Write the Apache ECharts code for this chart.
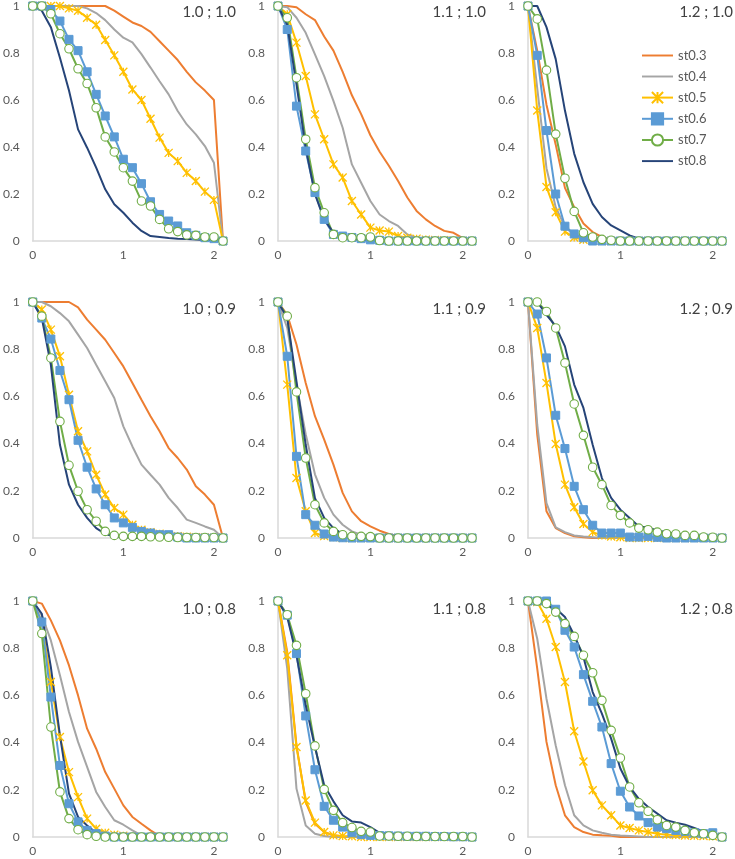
<!DOCTYPE html>
<html><head><meta charset="utf-8">
<script src="https://cdn.jsdelivr.net/npm/echarts@6/dist/echarts.min.js"></script>
<style>html,body{margin:0;padding:0;background:#fff}#c{width:735px;height:859px}</style>
</head><body><div id="c"></div>
<script>
const xs = ['0','0.1','0.2','0.3','0.4','0.5','0.6','0.7','0.8','0.9','1','1.1','1.2','1.3','1.4','1.5','1.6','1.7','1.8','1.9','2','2.1'];
const seriesNames = ['st0.3','st0.4','st0.5','st0.6','st0.7','st0.8'];
const panelTitles = ['1.0 ; 1.0','1.1 ; 1.0','1.2 ; 1.0','1.0 ; 0.9','1.1 ; 0.9','1.2 ; 0.9','1.0 ; 0.8','1.1 ; 0.8','1.2 ; 0.8'];
const yTicks = [0,0.2,0.4,0.6,0.8,1];

// Panel 1.0 ; 1.0
const p1_st03 = [1,1,1,1,1,1,1,1,1,0.98,0.955,0.93,0.915,0.89,0.85,0.81,0.77,0.72,0.675,0.64,0.6,0];
const p1_st04 = [1,1,1,1,1,1,0.99,0.97,0.94,0.9,0.865,0.845,0.795,0.738,0.68,0.624,0.553,0.496,0.454,0.404,0.333,0];
const p1_st05 = [1,1,1,1,0.99,0.98,0.95,0.92,0.855,0.79,0.72,0.645,0.6,0.52,0.44,0.375,0.34,0.29,0.255,0.21,0.175,0];
const p1_st06 = [1,1,0.985,0.936,0.858,0.81,0.72,0.624,0.532,0.443,0.348,0.312,0.244,0.167,0.113,0.085,0.064,0.035,0.024,0.014,0.01,0];
const p1_st07 = [1,1,0.967,0.882,0.818,0.733,0.67,0.567,0.443,0.379,0.312,0.255,0.17,0.149,0.092,0.052,0.04,0.026,0.024,0.017,0.017,0];
const p1_st08 = [1,0.98,0.91,0.78,0.64,0.475,0.397,0.312,0.22,0.156,0.12,0.078,0.043,0.021,0.017,0.013,0.01,0.008,0.006,0.004,0.002,0];
// Panel 1.1 ; 1.0
const p2_st03 = [1,1,0.995,0.965,0.94,0.87,0.81,0.72,0.62,0.54,0.45,0.38,0.32,0.255,0.185,0.128,0.092,0.064,0.043,0.035,0.012,0];
const p2_st04 = [1,0.995,0.95,0.886,0.794,0.702,0.596,0.482,0.326,0.248,0.17,0.113,0.085,0.064,0.028,0.014,0.01,0.007,0.005,0.003,0.002,0];
const p2_st05 = [1,0.965,0.844,0.702,0.539,0.433,0.326,0.27,0.17,0.113,0.057,0.045,0.04,0.021,0.014,0.01,0.006,0.004,0.003,0.002,0.001,0];
const p2_st06 = [1,0.9,0.574,0.383,0.206,0.092,0.028,0.021,0.015,0.01,0.005,0.003,0,0,0,0,0,0,0,0,0,0];
const p2_st07 = [1,0.95,0.695,0.433,0.227,0.12,0.028,0.014,0.014,0.014,0.017,0.002,0,0,0,0,0,0,0,0,0,0];
const p2_st08 = [1,0.92,0.667,0.397,0.199,0.092,0.035,0.014,0.007,0.004,0.002,0,0,0,0,0,0,0,0,0,0,0];
// Panel 1.2 ; 1.0
const p3_st03 = [1,0.81,0.58,0.41,0.226,0.144,0.074,0.038,0.017,0.008,0.004,0.002,0,0,0,0,0,0,0,0,0,0];
const p3_st04 = [1,0.65,0.31,0.144,0.06,0.025,0.01,0.005,0,0,0,0,0,0,0,0,0,0,0,0,0,0];
const p3_st05 = [1,0.555,0.23,0.122,0.04,0.015,0.005,0.002,0,0,0,0,0,0,0,0,0,0,0,0,0,0];
const p3_st06 = [1,0.79,0.47,0.2,0.063,0.03,0.014,0,0,0,0,0,0,0,0,0,0,0,0,0,0,0];
const p3_st07 = [1,0.945,0.727,0.455,0.267,0.126,0.035,0.017,0.007,0.003,0,0,0,0,0,0,0,0,0,0,0,0];
const p3_st08 = [1,1,0.91,0.774,0.555,0.372,0.25,0.158,0.102,0.066,0.045,0.024,0.01,0.01,0.01,0.005,0.003,0,0,0,0,0];
// Panel 1.0 ; 0.9
const p4_st03 = [1,1,1,1,1,0.977,0.925,0.883,0.84,0.784,0.727,0.657,0.586,0.516,0.452,0.381,0.339,0.29,0.219,0.184,0.141,0];
const p4_st04 = [1,1,0.982,0.953,0.918,0.862,0.805,0.734,0.664,0.593,0.473,0.388,0.311,0.268,0.226,0.17,0.127,0.078,0.064,0.049,0.035,0];
const p4_st05 = [1,0.968,0.883,0.77,0.607,0.452,0.367,0.268,0.184,0.127,0.099,0.056,0.035,0.025,0.018,0.012,0.008,0.005,0.003,0.002,0.001,0];
const p4_st06 = [1,0.932,0.843,0.71,0.586,0.414,0.3,0.208,0.141,0.085,0.064,0.045,0.028,0.021,0.014,0.014,0.004,0,0,0,0,0];
const p4_st07 = [1,0.94,0.763,0.494,0.308,0.198,0.12,0.071,0.028,0.011,0.007,0.007,0.007,0.005,0.004,0.003,0.002,0.002,0.002,0.002,0.002,0];
const p4_st08 = [1,0.932,0.734,0.395,0.226,0.141,0.085,0.042,0.017,0.007,0.003,0,0,0,0,0,0,0,0,0,0,0];
// Panel 1.1 ; 0.9
const p5_st03 = [1,0.946,0.82,0.657,0.516,0.417,0.311,0.191,0.113,0.071,0.049,0.031,0.017,0.008,0.004,0,0,0,0,0,0,0];
const p5_st04 = [1,0.89,0.65,0.44,0.27,0.17,0.099,0.056,0.028,0.014,0.007,0,0,0,0,0,0,0,0,0,0,0];
const p5_st05 = [1,0.65,0.254,0.113,0.021,0.008,0.003,0,0,0,0,0,0,0,0,0,0,0,0,0,0,0];
const p5_st06 = [1,0.77,0.346,0.099,0.054,0.017,0.004,0.001,0,0,0,0,0,0,0,0,0,0,0,0,0,0];
const p5_st07 = [1,0.94,0.619,0.339,0.141,0.064,0.028,0.014,0.007,0.007,0.006,0,0,0,0,0,0,0,0,0,0,0];
const p5_st08 = [1,0.932,0.664,0.395,0.169,0.085,0.042,0.017,0.007,0.003,0,0,0,0,0,0,0,0,0,0,0,0];
// Panel 1.2 ; 0.9
const p6_st03 = [1,0.438,0.113,0.042,0.021,0.007,0.003,0,0,0,0,0,0,0,0,0,0,0,0,0,0,0];
const p6_st04 = [1,0.48,0.148,0.045,0.025,0.011,0.006,0.003,0,0,0,0,0,0,0,0,0,0,0,0,0,0];
const p6_st05 = [1,0.89,0.657,0.398,0.226,0.13,0.059,0.025,0.011,0.006,0.003,0,0,0,0,0,0,0,0,0,0,0];
const p6_st06 = [1,0.949,0.763,0.52,0.379,0.219,0.12,0.054,0.021,0.021,0.021,0.004,0.004,0.007,0.003,0,0,0,0,0,0,0];
const p6_st07 = [1,1,0.96,0.89,0.742,0.568,0.435,0.3,0.226,0.138,0.096,0.064,0.042,0.035,0.025,0.018,0.017,0.011,0.011,0.004,0.003,0];
const p6_st08 = [1,1,0.946,0.898,0.812,0.65,0.551,0.395,0.254,0.17,0.12,0.085,0.049,0.045,0.031,0.025,0.017,0.014,0.011,0.007,0.003,0];
// Panel 1.0 ; 0.8
const p7_st03 = [1,0.989,0.918,0.833,0.727,0.6,0.459,0.374,0.275,0.205,0.134,0.085,0.056,0.028,0.004,0,0,0,0,0,0,0];
const p7_st04 = [1,0.939,0.833,0.685,0.53,0.403,0.297,0.191,0.127,0.071,0.052,0.028,0.007,0.003,0,0,0,0,0,0,0,0];
const p7_st05 = [1,0.911,0.657,0.424,0.275,0.169,0.078,0.035,0.018,0.01,0.005,0,0,0,0,0,0,0,0,0,0,0];
const p7_st06 = [1,0.911,0.593,0.303,0.141,0.064,0.028,0.014,0.004,0,0,0,0,0,0,0,0,0,0,0,0,0];
const p7_st07 = [1,0.862,0.466,0.191,0.078,0.031,0.01,0.003,0,0,0,0,0,0,0,0,0,0,0,0,0,0];
const p7_st08 = [1,0.946,0.72,0.431,0.184,0.085,0.049,0.018,0.01,0.006,0.004,0,0,0,0,0,0,0,0,0,0,0];
// Panel 1.1 ; 0.8
const p8_st03 = [1,0.784,0.388,0.148,0.056,0.021,0.007,0.002,0,0,0,0,0,0,0,0,0,0,0,0,0,0];
const p8_st04 = [1,0.713,0.205,0.049,0.014,0.004,0,0,0,0,0,0,0,0,0,0,0,0,0,0,0,0];
const p8_st05 = [1,0.77,0.381,0.155,0.061,0.021,0.007,0.004,0.003,0,0,0,0,0,0,0,0,0,0,0,0,0];
const p8_st06 = [1,0.94,0.777,0.513,0.285,0.13,0.071,0.042,0.018,0.01,0.007,0.006,0.005,0.004,0.003,0.003,0.003,0.002,0.002,0.001,0.001,0];
const p8_st07 = [1,0.942,0.812,0.607,0.386,0.202,0.113,0.061,0.04,0.024,0.021,0.004,0.004,0.003,0.003,0.002,0.002,0.002,0.002,0.002,0.002,0];
const p8_st08 = [1,0.932,0.77,0.558,0.381,0.219,0.151,0.092,0.066,0.061,0.042,0.018,0.014,0.013,0.01,0.009,0.01,0.008,0.006,0.005,0.003,0.002];
// Panel 1.2 ; 0.8
const p9_st03 = [1,0.713,0.403,0.219,0.092,0.042,0.021,0.01,0.007,0.005,0,0,0,0,0,0,0,0,0,0,0,0];
const p9_st04 = [1,0.84,0.586,0.388,0.219,0.092,0.049,0.028,0.018,0.01,0.006,0.004,0.002,0,0,0,0,0,0,0,0,0];
const p9_st05 = [1,0.996,0.925,0.805,0.657,0.448,0.32,0.198,0.134,0.092,0.049,0.038,0.028,0.021,0.014,0.01,0.008,0.006,0.005,0.004,0.003,0];
const p9_st06 = [1,1,1,0.965,0.876,0.805,0.688,0.575,0.466,0.311,0.194,0.127,0.089,0.061,0.042,0.035,0.028,0.024,0.018,0.014,0.018,0];
const p9_st07 = [1,1,0.989,0.953,0.904,0.85,0.77,0.696,0.579,0.452,0.335,0.212,0.145,0.109,0.073,0.049,0.042,0.028,0.018,0.014,0.007,0];
const p9_st08 = [1,0.996,0.982,0.968,0.932,0.855,0.763,0.614,0.523,0.417,0.29,0.212,0.162,0.127,0.099,0.071,0.061,0.052,0.038,0.024,0.01,0];

const panelData = [
  [p1_st03,p1_st04,p1_st05,p1_st06,p1_st07,p1_st08],
  [p2_st03,p2_st04,p2_st05,p2_st06,p2_st07,p2_st08],
  [p3_st03,p3_st04,p3_st05,p3_st06,p3_st07,p3_st08],
  [p4_st03,p4_st04,p4_st05,p4_st06,p4_st07,p4_st08],
  [p5_st03,p5_st04,p5_st05,p5_st06,p5_st07,p5_st08],
  [p6_st03,p6_st04,p6_st05,p6_st06,p6_st07,p6_st08],
  [p7_st03,p7_st04,p7_st05,p7_st06,p7_st07,p7_st08],
  [p8_st03,p8_st04,p8_st05,p8_st06,p8_st07,p8_st08],
  [p9_st03,p9_st04,p9_st05,p9_st06,p9_st07,p9_st08]
];

const FONT = 'Lato, "Liberation Sans", sans-serif';
const colLeft = [29, 278, 528];
const rowTop = [5, 302, 601];
const titleRight = [499, 249, 2];
const titleTop = [5, 302, 602];
const GW = 194, GH = 236;
const axisGray = '#D9D9D9';
const labelGray = '#595959';
const LINE_ICON = 'path://M0,0L64,0L64,4L0,4Z';

const styles = [
  {color:'#ED7D31', symbol:'none'},
  {color:'#A5A5A5', symbol:'none'},
  {color:'#FFC000', symbol:'path://M0,0L10,10M10,0L0,10M5,0L5,10', size:8, fill:'#FFC000', border:'#FFC000', bw:1.3},
  {color:'#5B9BD5', symbol:'rect', size:8, fill:'#5B9BD5', border:'#5B9BD5', bw:1},
  {color:'#70AD47', symbol:'circle', size:8.5, fill:'#FFFFFF', border:'#70AD47', bw:1.1},
  {color:'#264478', symbol:'none'}
];

const grid = [], xAxis = [], yAxis = [], series = [], title = [];
panelData.forEach((pd, i) => {
  const r = Math.floor(i / 3), c = i % 3;
  grid.push({left: colLeft[c], top: rowTop[r], width: GW, height: GH, containLabel: false});
  xAxis.push({
    gridIndex: i, type: 'category', data: xs, boundaryGap: false,
    axisLine: {show: true, lineStyle: {color: axisGray, width: 1.5}},
    axisTick: {show: false},
    axisLabel: {interval: (idx) => idx % 10 === 0, margin: 8, color: labelGray, fontSize: 12, fontFamily: FONT},
    splitLine: {show: false}
  });
  yAxis.push({
    gridIndex: i, type: 'value', min: 0, max: 1, interval: 0.2,
    axisLine: {show: true, lineStyle: {color: axisGray, width: 1.5}},
    axisTick: {show: false},
    axisLabel: {margin: 13, color: labelGray, fontSize: 12, fontFamily: FONT},
    splitLine: {show: false}
  });
  title.push({
    text: panelTitles[i], right: titleRight[c], top: titleTop[r], padding: 0,
    textStyle: {fontSize: 15, fontWeight: 'normal', color: '#404040', fontFamily: FONT}
  });
  pd.forEach((vals, k) => {
    const st = styles[k];
    const s = {
      name: seriesNames[k], type: 'line', xAxisIndex: i, yAxisIndex: i, data: vals,
      clip: false, silent: true,
      lineStyle: {color: st.color, width: 2},
      emphasis: {disabled: true}
    };
    if (st.symbol === 'none') {
      s.symbol = 'none'; s.showSymbol = false;
      s.itemStyle = {color: st.color};
    } else {
      s.symbol = st.symbol; s.symbolSize = st.size; s.showSymbol = true; s.showAllSymbol = true;
      s.itemStyle = {color: st.fill, borderColor: st.border, borderWidth: st.bw};
    }
    series.push(s);
  });
});

const legendData = seriesNames.map((n, k) => styles[k].symbol === 'none' ? {name: n, icon: LINE_ICON} : {name: n});

const chart = echarts.init(document.getElementById('c'), null, {renderer: 'canvas'});
chart.setOption({
  animation: false,
  backgroundColor: '#fff',
  title: title,
  legend: {
    data: legendData, orient: 'vertical', left: 636, top: 44,
    itemWidth: 31, itemHeight: 14, itemGap: 8, selectedMode: false, symbolKeepAspect: true,
    textStyle: {fontSize: 13, color: labelGray, fontFamily: FONT}
  },
  grid: grid, xAxis: xAxis, yAxis: yAxis, series: series
});
</script>
</body></html>
